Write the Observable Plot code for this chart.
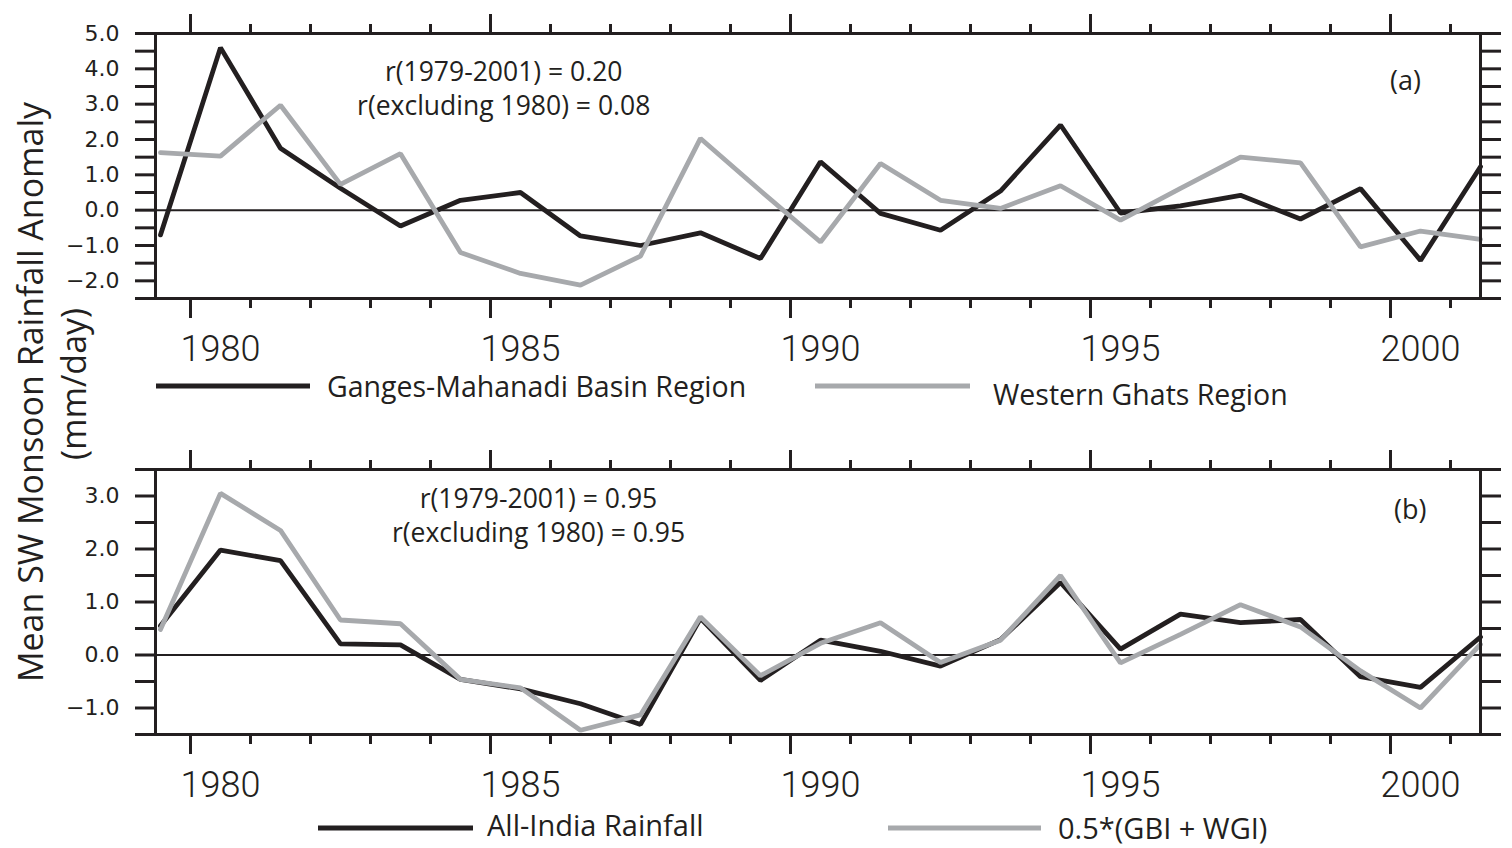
<!DOCTYPE html>
<html>
<head>
<meta charset="utf-8">
<script src="https://cdn.jsdelivr.net/npm/d3@7"></script>
<script src="https://cdn.jsdelivr.net/npm/@observablehq/plot@0.6"></script>
<style>
  body { margin: 0; background: #fff; }
  #wrap { position: relative; width: 1512px; height: 848px; overflow: hidden; background: #fff;
          font-family: "Open Sans", sans-serif; color: #231f20; }
  .plot { position: absolute; left: 0; }
  .ytitle { position: absolute; transform: translate(-50%, -50%) rotate(-90deg); white-space: nowrap;
            font-size: 34px; line-height: 1; }
  .leg-line { position: absolute; height: 5px; transform: translateY(-50%); }
  .leg-text { position: absolute; line-height: 0.85; white-space: nowrap; transform: translateY(-53%); }
</style>
</head>
<body>
<div id="wrap"></div>
<script>
// ---------- data ----------
const years = [1979, 1980, 1981, 1982, 1983, 1984, 1985, 1986, 1987, 1988, 1989, 1990,
               1991, 1992, 1993, 1994, 1995, 1996, 1997, 1998, 1999, 2000, 2001];

// panel (a)
const gangesMahanadi = [-0.70, 4.60, 1.75, 0.62, -0.45, 0.28, 0.50, -0.73, -1.00, -0.64, -1.37, 1.37,
                        -0.09, -0.57, 0.54, 2.41, -0.08, 0.12, 0.42, -0.25, 0.61, -1.42, 1.23];
const westernGhats   = [1.63, 1.53, 2.97, 0.73, 1.60, -1.20, -1.79, -2.12, -1.30, 2.03, 0.55, -0.90,
                        1.32, 0.28, 0.05, 0.69, -0.28, 0.62, 1.50, 1.34, -1.04, -0.59, -0.83];
// panel (b)
const allIndia       = [0.55, 1.98, 1.78, 0.21, 0.19, -0.46, -0.64, -0.92, -1.31, 0.69, -0.48, 0.28,
                        0.07, -0.21, 0.29, 1.37, 0.11, 0.77, 0.61, 0.67, -0.41, -0.61, 0.34];
const halfSum        = [0.48, 3.05, 2.35, 0.66, 0.59, -0.46, -0.62, -1.42, -1.13, 0.72, -0.39, 0.22,
                        0.61, -0.14, 0.28, 1.50, -0.15, 0.39, 0.95, 0.53, -0.30, -1.00, 0.20];

const xLabelYears = [1980, 1985, 1990, 1995, 2000];
const yLabelsA = [-2, -1, 0, 1, 2, 3, 4, 5];
const yLabelsB = [-1, 0, 1, 2, 3];
const legendA = ["Ganges-Mahanadi Basin Region", "Western Ghats Region"];
const legendB = ["All-India Rainfall", "0.5*(GBI + WGI)"];
const notesA = [
  {x: 1984.72, y: 3.89, t: "r(1979-2001) = 0.20"},
  {x: 1984.72, y: 2.93, t: "r(excluding 1980) = 0.08"}
];
const tagA = [{x: 1999.75, y: 3.65, t: "(a)"}];
const notesB = [
  {x: 1985.3, y: 2.94, t: "r(1979-2001) = 0.95"},
  {x: 1985.3, y: 2.30, t: "r(excluding 1980) = 0.95"}
];
const tagB = [{x: 1999.83, y: 2.72, t: "(b)"}];
const yTitle = "Mean SW Monsoon Rainfall Anomaly";
const yUnits = "(mm/day)";

// ---------- styling ----------
const ink = "#231f20", grey = "#a7a9ac";
const minorX = years.slice(1).map(y => y - 0.5);           // yearly ticks between data years
const majorX = xLabelYears.map(y => y - 0.5);
const fy = d3.format(".1f");

function panel({height, mt, mb, yDomain, black, gray, labels, notes, tag, labPad}) {
  const minorY = d3.range(Math.round(yDomain[0] * 2), Math.round(yDomain[1] * 2) + 1).map(k => k / 2);
  const rowsK = years.map((y, i) => ({year: y, v: black[i]}));
  const rowsG = years.map((y, i) => ({year: y, v: gray[i]}));
  const tickStyle = {fill: "none", stroke: ink, strokeWidth: 3, label: null};
  return Plot.plot({
    width: 1512, height,
    marginLeft: 155, marginRight: 32, marginTop: mt, marginBottom: mb,
    x: {domain: [1978.917, 2001]},
    y: {domain: yDomain},
    style: {background: "white", color: ink, fontFamily: "'Open Sans', sans-serif", overflow: "visible"},
    marks: [
      Plot.ruleY([0], {stroke: ink, strokeWidth: 2}),
      Plot.lineY(rowsK, {x: "year", y: "v", stroke: ink, strokeWidth: 4.8, strokeLinejoin: "miter"}),
      Plot.lineY(rowsG, {x: "year", y: "v", stroke: grey, strokeWidth: 4.8, strokeLinejoin: "miter"}),
      Plot.frame({stroke: ink, strokeWidth: 3}),
      Plot.axisX({anchor: "top", ticks: minorX, tickSize: 10, ...tickStyle}),
      Plot.axisX({anchor: "top", ticks: majorX, tickSize: 20, ...tickStyle}),
      Plot.axisX({anchor: "bottom", ticks: minorX, tickSize: 10, ...tickStyle}),
      Plot.axisX({anchor: "bottom", ticks: majorX, tickSize: 20, ...tickStyle}),
      Plot.axisX({anchor: "bottom", ticks: xLabelYears, tickSize: 0, tickPadding: labPad,
                  tickFormat: d3.format("d"), fontSize: 36, fontFamily: "Roboto", fontWeight: 300,
                  fill: ink, label: null}),
      Plot.axisY({anchor: "left", ticks: minorY, tickSize: 20, ...tickStyle}),
      Plot.axisY({anchor: "right", ticks: minorY, tickSize: 20, ...tickStyle}),
      Plot.axisY({anchor: "left", ticks: labels, tickSize: 0, tickPadding: 36, tickFormat: fy,
                  fontSize: 22, fontFamily: "DejaVu Sans", fill: ink, label: null}),
      Plot.text(notes, {x: "x", y: "y", text: "t", fontSize: 26.5, textAnchor: "middle",
                        lineAnchor: "middle", fill: ink}),
      Plot.text(tag, {x: "x", y: "y", text: "t", fontSize: 27, textAnchor: "middle",
                      lineAnchor: "middle", fill: ink})
    ]
  });
}

const wrap = document.getElementById("wrap");

const plotA = panel({height: 400, mt: 33, mb: 102, yDomain: [-2.5, 5], black: gangesMahanadi,
                     gray: westernGhats, labels: yLabelsA, notes: notesA, tag: tagA, labPad: 37});
plotA.classList.add("plot"); plotA.style.top = "0px";
wrap.appendChild(plotA);

const plotB = panel({height: 448, mt: 69, mb: 114, yDomain: [-1.5, 3.5], black: allIndia,
                     gray: halfSum, labels: yLabelsB, notes: notesB, tag: tagB, labPad: 37});
plotB.classList.add("plot"); plotB.style.top = "400px";
wrap.appendChild(plotB);

// ---------- legends & axis title (HTML, outside the SVGs' data area) ----------
function add(tag, cls, css, text) {
  const el = document.createElement(tag);
  el.className = cls;
  Object.assign(el.style, css);
  if (text != null) el.textContent = text;
  wrap.appendChild(el);
  return el;
}
add("div", "leg-line", {left: "156px", top: "386px", width: "154px", background: ink});
add("div", "leg-text", {left: "327px", top: "387px", fontSize: "28.5px"}, legendA[0]);
add("div", "leg-line", {left: "815px", top: "386px", width: "155px", background: grey});
add("div", "leg-text", {left: "993px", top: "395px", fontSize: "28.5px"}, legendA[1]);

add("div", "leg-line", {left: "318px", top: "828px", width: "155px", background: ink});
add("div", "leg-text", {left: "487px", top: "826px", fontSize: "29px"}, legendB[0]);
add("div", "leg-line", {left: "888px", top: "828px", width: "153px", background: grey});
add("div", "leg-text", {left: "1058px", top: "829px", fontSize: "29px"}, legendB[1]);

add("div", "ytitle", {left: "30px", top: "392px"}, yTitle);
add("div", "ytitle", {left: "73px", top: "384px"}, yUnits);
</script>
</body>
</html>
